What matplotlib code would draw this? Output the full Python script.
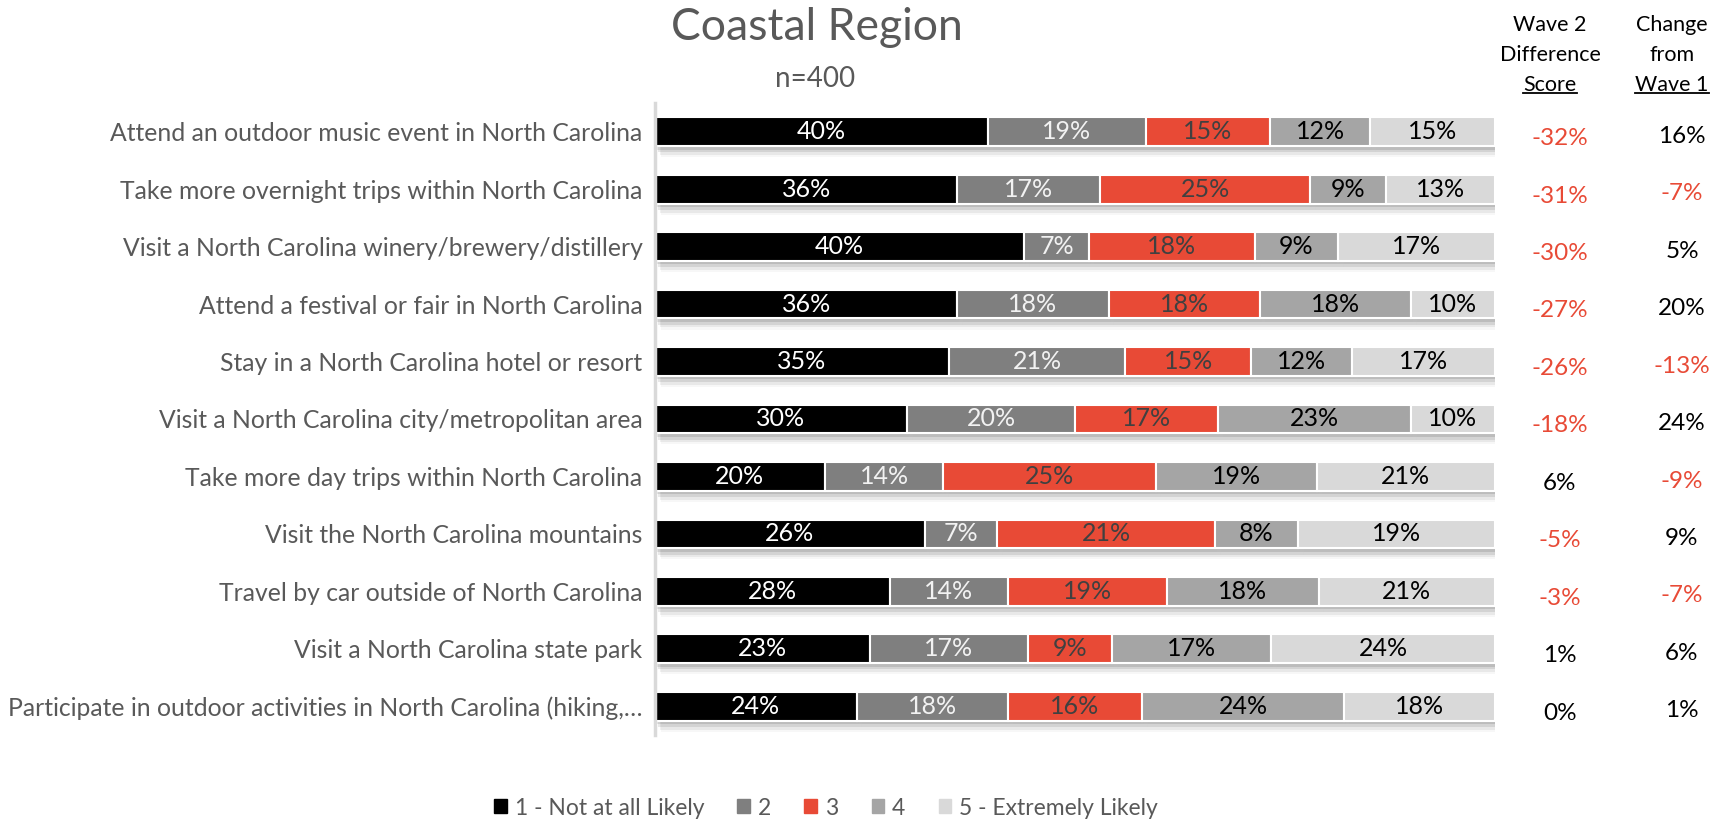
import matplotlib
matplotlib.use("Agg")
import matplotlib.pyplot as plt
import matplotlib.patheffects as pe
import matplotlib.transforms as mtransforms
import numpy as np

plt.rcParams['font.family'] = ['Lato', 'DejaVu Sans']

categories = [
    "Attend an outdoor music event in North Carolina",
    "Take more overnight trips within North Carolina",
    "Visit a North Carolina winery/brewery/distillery",
    "Attend a festival or fair in North Carolina",
    "Stay in a North Carolina hotel or resort",
    "Visit a North Carolina city/metropolitan area",
    "Take more day trips within North Carolina",
    "Visit the North Carolina mountains",
    "Travel by car outside of North Carolina",
    "Visit a North Carolina state park",
    "Participate in outdoor activities in North Carolina (hiking,\u2026",
]

not_at_all = [40, 36, 40, 36, 35, 30, 20, 26, 28, 23, 24]
two = [19, 17, 7, 18, 21, 20, 14, 7, 14, 17, 18]
three = [15, 25, 18, 18, 15, 17, 25, 21, 19, 9, 16]
four = [12, 9, 9, 18, 12, 23, 19, 8, 18, 17, 24]
extremely = [15, 13, 17, 10, 17, 10, 21, 19, 21, 24, 18]

series_names = ["1 - Not at all Likely", "2", "3", "4", "5 - Extremely Likely"]
series_values = [not_at_all, two, three, four, extremely]

difference_score = [-32, -31, -30, -27, -26, -18, 6, -5, -3, 1, 0]
change_from_wave1 = [16, -7, 5, 20, -13, 24, -9, 9, -7, 6, 1]

colors = ["#000000", "#7f7f7f", "#e84a36", "#a5a5a5", "#d9d9d9"]
label_colors = ["#ffffff", "#f2f2f2", "#404040", "#000000", "#000000"]
RED = "#e84a36"
GRAY_TEXT = "#595959"

W, H = 1727, 821
fig = plt.figure(figsize=(W / 100, H / 100), dpi=100)
ax = fig.add_axes([655 / W, 1 - 735 / H, (1495 - 655) / W, (735 - 103) / H])

vals = np.array(series_values, dtype=float)
totals = vals.sum(axis=0)
shares = vals / totals * 100  # 100% stacked bars
y = np.arange(len(categories))

shadow = [
    pe.SimplePatchShadow(offset=(1.5, -2.5), shadow_rgbFace="#000000", alpha=0.10),
    pe.SimplePatchShadow(offset=(2.5, -4.5), shadow_rgbFace="#000000", alpha=0.09),
    pe.SimplePatchShadow(offset=(3.5, -6.5), shadow_rgbFace="#000000", alpha=0.06),
    pe.SimplePatchShadow(offset=(4.0, -8.0), shadow_rgbFace="#000000", alpha=0.03),
    pe.Normal(),
]

left = np.zeros(len(categories))
for i, name in enumerate(series_names):
    bars = ax.barh(y, shares[i], left=left, height=0.5, color=colors[i],
                   edgecolor="white", linewidth=1.5, label=name, zorder=2)
    for b in bars:
        b.set_path_effects(shadow)
    for j in range(len(categories)):
        ax.text(left[j] + shares[i][j] / 2, y[j], f"{series_values[i][j]}%",
                ha="center", va="center", fontsize=18,
                color=label_colors[i], zorder=3)
    left += shares[i]

ax.set_xlim(0, 100)
ax.set_ylim(len(categories) - 0.5, -0.5)
ax.set_yticks(y)
ax.set_yticklabels(categories, fontsize=17.8, color=GRAY_TEXT)
ax.tick_params(axis="y", length=0, pad=9)
ax.set_xticks([])
for s in ["top", "right", "bottom"]:
    ax.spines[s].set_visible(False)
ax.spines["left"].set_color("#d9d9d9")
ax.spines["left"].set_linewidth(2.5)

# Title and sample size
fig.text(817 / W, 1 - 27 / H, "Coastal Region", ha="center", va="center",
         fontsize=32, color=GRAY_TEXT)
fig.text(815 / W, 1 - 79 / H, "n=400", ha="center", va="center",
         fontsize=20, color=GRAY_TEXT)

# Side columns
trans = mtransforms.blended_transform_factory(fig.transFigure, ax.transData)
diff_x = 1560 / W
chg_x = 1682 / W
for j in range(len(categories)):
    d = difference_score[j]
    c = change_from_wave1[j]
    ax.text(diff_x, y[j] + 0.12, f"{d}%", transform=trans, ha="center",
            va="center", fontsize=17.5, color=RED if d < 0 else "#000000",
            clip_on=False)
    ax.text(chg_x, y[j] + 0.08, f"{c}%", transform=trans, ha="center",
            va="center", fontsize=17.5, color=RED if c < 0 else "#000000",
            clip_on=False)

header_lines_y = [25, 55, 85]
diff_header = ["Wave 2", "Difference", "Score"]
chg_header = ["Change", "from", "Wave 1"]
underlined = []
for k in range(3):
    fig.text(1550 / W, 1 - header_lines_y[k] / H, diff_header[k], ha="center",
             va="center", fontsize=15.5, color="#000000")
    fig.text(1672 / W, 1 - header_lines_y[k] / H, chg_header[k], ha="center",
             va="center", fontsize=15.5, color="#000000")
underlined.append(fig.texts[-2])
underlined.append(fig.texts[-1])

# Legend
handles = [plt.Rectangle((0, 0), 1, 1, color=c) for c in colors]
leg = fig.legend(handles, series_names, loc="center",
                 bbox_to_anchor=(826 / W, 1 - 808 / H), ncol=5, frameon=False,
                 fontsize=16.5, handlelength=0.55, handleheight=0.55,
                 handletextpad=0.35, columnspacing=1.45)
for t in leg.get_texts():
    t.set_color(GRAY_TEXT)

# Underline the last header line of each column
fig.canvas.draw()
renderer = fig.canvas.get_renderer()
for t in underlined:
    bb = t.get_window_extent(renderer).transformed(fig.transFigure.inverted())
    fig.add_artist(plt.Line2D([bb.x0, bb.x1], [bb.y0 + 0.002, bb.y0 + 0.002],
                              transform=fig.transFigure, color="#000000",
                              linewidth=1.3))

fig.savefig("out.png", dpi=100)
